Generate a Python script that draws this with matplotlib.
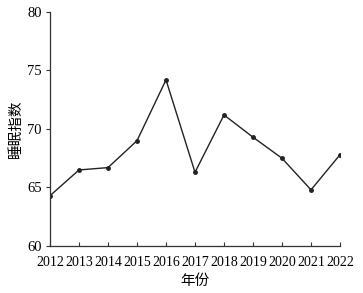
import matplotlib
matplotlib.use("Agg")
import matplotlib.pyplot as plt

years = [2012, 2013, 2014, 2015, 2016, 2017, 2018, 2019, 2020, 2021, 2022]
sleep_index = [64.3, 66.5, 66.7, 69.0, 74.2, 66.3, 71.2, 69.3, 67.5, 64.8, 67.8]
yticks = [60, 65, 70, 75, 80]

plt.rcParams['font.family'] = ['Liberation Serif', 'Noto Sans CJK SC']

fig = plt.figure(figsize=(3.63, 2.93), dpi=100)
ax = fig.add_axes([50/363, 1-246/293, 290/363, 234/293])
ax.plot(years, sleep_index, color='#222222', linewidth=1.0, marker='o', markersize=2.5)
ax.set_xlim(2012, 2022)
ax.set_ylim(60, 80)
ax.set_xticks(years)
ax.set_yticks(yticks)
ax.spines['top'].set_visible(False)
ax.spines['right'].set_visible(False)
for s in ['left', 'bottom']:
    ax.spines[s].set_color('#333333')
    ax.spines[s].set_linewidth(0.9)
ax.tick_params(axis='x', direction='in', length=3, labelsize=10, pad=7, colors='#333333', labelcolor='black')
ax.tick_params(axis='y', direction='out', length=3, labelsize=10.5, pad=3, colors='#333333', labelcolor='black')
ax.set_xlabel('年份', fontsize=10.5, family=['Noto Sans CJK SC'], labelpad=4)
ax.set_ylabel('睡眠指数', fontsize=10.5, family=['Noto Sans CJK SC'], labelpad=3)
fig.savefig('out.png', dpi=100)
